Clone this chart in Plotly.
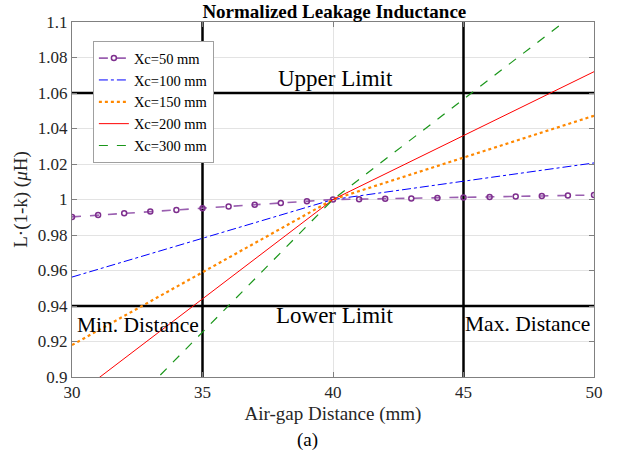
import plotly.graph_objects as go

# ---- data ----
x_50 = list(range(30, 51))
y_50 = [0.9902, 0.9912, 0.9922, 0.9932, 0.9941, 0.9951, 0.9961, 0.9971, 0.9980, 0.9990, 1.0000,
        1.0002, 1.0004, 1.0006, 1.0008, 1.0011, 1.0014, 1.0017, 1.0020, 1.0023, 1.0025]

x_lines = [30, 40, 50]
y_100 = [0.9563, 1.0000, 1.0206]
y_150 = [0.9180, 1.0000, 1.0472]
y_200 = [0.8880, 1.0000, 1.0720]
y_300 = [0.8505, 1.0000, 1.1130]

upper_limit = 1.06
lower_limit = 0.94
min_distance = 35
max_distance = 45

x_ticks = [30, 35, 40, 45, 50]
y_ticks = [0.9, 0.92, 0.94, 0.96, 0.98, 1.0, 1.02, 1.04, 1.06, 1.08, 1.1]
y_tick_text = ["0.9", "0.92", "0.94", "0.96", "0.98", "1", "1.02", "1.04", "1.06", "1.08", "1.1"]

FONT = "Liberation Serif"

fig = go.Figure()
fig.add_trace(go.Scatter(x=x_50, y=y_50, name="Xc=50 mm", mode="lines+markers",
                         line=dict(color="#9a5fb0", width=1.6, dash="dash"),
                         marker=dict(symbol="circle-open", size=5, color="#7e2f8e", line=dict(width=1.5))))
fig.add_trace(go.Scatter(x=x_lines, y=y_100, name="Xc=100 mm", mode="lines",
                         line=dict(color="#0000ff", width=1, dash="dashdot")))
fig.add_trace(go.Scatter(x=x_lines, y=y_150, name="Xc=150 mm", mode="lines",
                         line=dict(color="#ff8800", width=2.2, dash="dot")))
fig.add_trace(go.Scatter(x=x_lines, y=y_200, name="Xc=200 mm", mode="lines",
                         line=dict(color="#ff0000", width=1)))
fig.add_trace(go.Scatter(x=x_lines, y=y_300, name="Xc=300 mm", mode="lines",
                         line=dict(color="#1a961a", width=1.2, dash="dash")))

for yv in (upper_limit, lower_limit):
    fig.add_shape(type="line", xref="x", yref="y", x0=30, x1=50, y0=yv, y1=yv,
                  line=dict(color="black", width=2.5), layer="between")
for xv in (min_distance, max_distance):
    fig.add_shape(type="line", xref="x", yref="y", x0=xv, x1=xv, y0=0.9, y1=1.1,
                  line=dict(color="black", width=2.5), layer="between")

ann_font = dict(family=FONT, size=23, color="black")
side_font = dict(family=FONT, size=21.5, color="black")
fig.add_annotation(x=40.08, y=1.068, text="Upper Limit", showarrow=False, font=ann_font)
fig.add_annotation(x=40.05, y=0.9344, text="Lower Limit", showarrow=False, font=ann_font)
fig.add_annotation(x=32.53, y=0.9293, text="Min. Distance", showarrow=False, font=side_font)
fig.add_annotation(x=47.47, y=0.9300, text="Max. Distance", showarrow=False, font=side_font)
fig.add_annotation(xref="paper", yref="paper", x=0.452, y=-0.177, yanchor="middle",
                   text="(a)", showarrow=False, font=dict(family=FONT, size=19, color="black"))

axis_common = dict(showline=True, linecolor="#808080", linewidth=1, mirror="ticks",
                   ticks="inside", ticklen=5, tickcolor="#808080",
                   showgrid=True, gridcolor="#e3e3e3", gridwidth=1, zeroline=False,
                   tickfont=dict(family=FONT, size=17, color="#262626"))

fig.update_xaxes(range=[30, 50], tickvals=x_ticks, **axis_common,
                 title=dict(text="Air-gap Distance (mm)", font=dict(family=FONT, size=19, color="#262626"), standoff=5))
fig.update_yaxes(range=[0.9, 1.1], tickvals=y_ticks, ticktext=y_tick_text, **axis_common,
                 title=dict(text="L·(1-k) (<i>μ</i>H)", font=dict(family=FONT, size=19, color="#262626"), standoff=5))

fig.update_layout(
    width=618, height=464,
    margin=dict(l=72, r=24, t=22, b=87),
    paper_bgcolor="white", plot_bgcolor="white",
    title=dict(text="<b>Normalized Leakage Inductance</b>", x=0.541, xanchor="center", y=0.976, yanchor="middle",
               font=dict(family=FONT, size=19, color="black")),
    legend=dict(x=0.04, y=0.946, xanchor="left", yanchor="top",
                bgcolor="white", bordercolor="#a0a0a0", borderwidth=1,
                font=dict(family=FONT, size=14.5, color="black"),
                tracegroupgap=0, itemwidth=30),
    showlegend=True,
)

fig.write_html("out.html", config={"displayModeBar": False},
               post_script="document.body.style.margin='0';")
